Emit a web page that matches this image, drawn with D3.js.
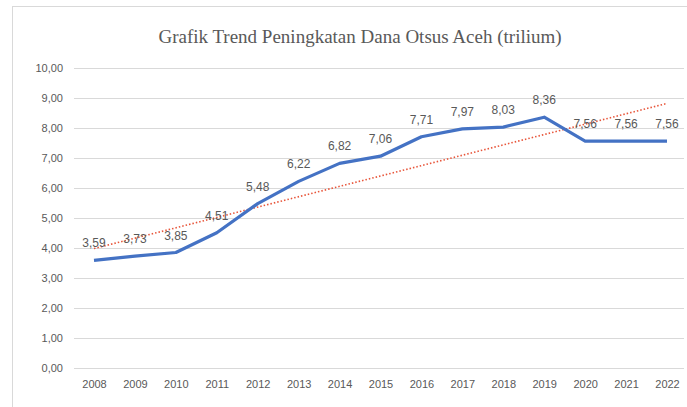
<!DOCTYPE html>
<html>
<head>
	<meta charset="utf-8" />
	<title>Grafik Trend Dana Otsus Aceh</title>
	<script src="https://d3js.org/d3.v7.min.js"></script>
	<style>
		body, html { margin: 0; background: #fff; }
		svg { display: block; }
	</style>
</head>
<body>
	<svg id="chart" width="687" height="407"></svg>
	<script>
		var years = ["2008", "2009", "2010", "2011", "2012", "2013", "2014", "2015", "2016", "2017", "2018", "2019", "2020", "2021", "2022"];
		var dana = [3.59, 3.73, 3.85, 4.51, 5.48, 6.22, 6.82, 7.06, 7.71, 7.97, 8.03, 8.36, 7.56, 7.56, 7.56];
		var yTicks = [0, 1, 2, 3, 4, 5, 6, 7, 8, 9, 10];

		var svg = d3.select("#chart");
		var fmt = function (v) { return d3.format(".2f")(v).replace(".", ","); };

		// chart frame
		svg.append("rect")
			.attr("x", 12.5).attr("y", 6.5)
			.attr("width", 700).attr("height", 420)
			.attr("fill", "#fff").attr("stroke", "#d9d9d9");

		svg.append("text")
			.attr("x", 360).attr("y", 43)
			.attr("text-anchor", "middle")
			.attr("font-family", "Liberation Serif, serif")
			.attr("font-size", 19)
			.attr("fill", "#595959")
			.text("Grafik Trend Peningkatan Dana Otsus Aceh (trilium)");

		var x = d3.scalePoint().domain(years).range([94, 667]);
		var y = d3.scaleLinear().domain([0, 10]).range([368, 68]);

		// gridlines
		svg.append("g").selectAll("line").data(yTicks).enter().append("line")
			.attr("x1", 74).attr("x2", 684)
			.attr("y1", function (d) { return Math.round(y(d)) + 0.5; })
			.attr("y2", function (d) { return Math.round(y(d)) + 0.5; })
			.attr("stroke", "#d9d9d9").attr("stroke-width", 1);

		var yAxis = svg.append("g")
			.attr("transform", "translate(66,0)")
			.call(d3.axisLeft(y).tickValues(yTicks).tickFormat(fmt).tickSize(0));
		yAxis.select(".domain").remove();
		yAxis.selectAll("text")
			.attr("font-family", "Liberation Sans, sans-serif")
			.attr("font-size", 11).attr("fill", "#595959");

		var xAxis = svg.append("g")
			.attr("transform", "translate(0,375)")
			.call(d3.axisBottom(x).tickSize(0));
		xAxis.select(".domain").remove();
		xAxis.selectAll("text")
			.attr("dy", "0.9em")
			.attr("font-family", "Liberation Sans, sans-serif")
			.attr("font-size", 11).attr("fill", "#595959");

		// linear trendline (least squares over the series)
		var n = dana.length;
		var mx = d3.mean(d3.range(n)), my = d3.mean(dana);
		var sxy = d3.sum(dana, function (v, i) { return (i - mx) * (v - my); });
		var sxx = d3.sum(d3.range(n), function (i) { return (i - mx) * (i - mx); });
		var slope = sxy / sxx, icpt = my - slope * mx;

		svg.append("line")
			.attr("x1", x(years[0])).attr("y1", y(icpt))
			.attr("x2", x(years[n - 1])).attr("y2", y(icpt + slope * (n - 1)))
			.attr("stroke", "#e8553a").attr("stroke-width", 1.6)
			.attr("stroke-dasharray", "1.5,2");

		var line = d3.line()
			.x(function (d, i) { return x(years[i]); })
			.y(function (d) { return y(d); });

		svg.append("path")
			.datum(dana)
			.attr("d", line)
			.attr("fill", "none")
			.attr("stroke", "#4472c4")
			.attr("stroke-width", 3.2)
			.attr("stroke-linejoin", "round");

		svg.append("g").selectAll("text").data(dana).enter().append("text")
			.attr("x", function (d, i) { return x(years[i]); })
			.attr("y", function (d) { return y(d) - 13; })
			.attr("text-anchor", "middle")
			.attr("font-family", "Liberation Sans, sans-serif")
			.attr("font-size", 12).attr("fill", "#595959")
			.text(fmt);
	</script>
</body>
</html>
